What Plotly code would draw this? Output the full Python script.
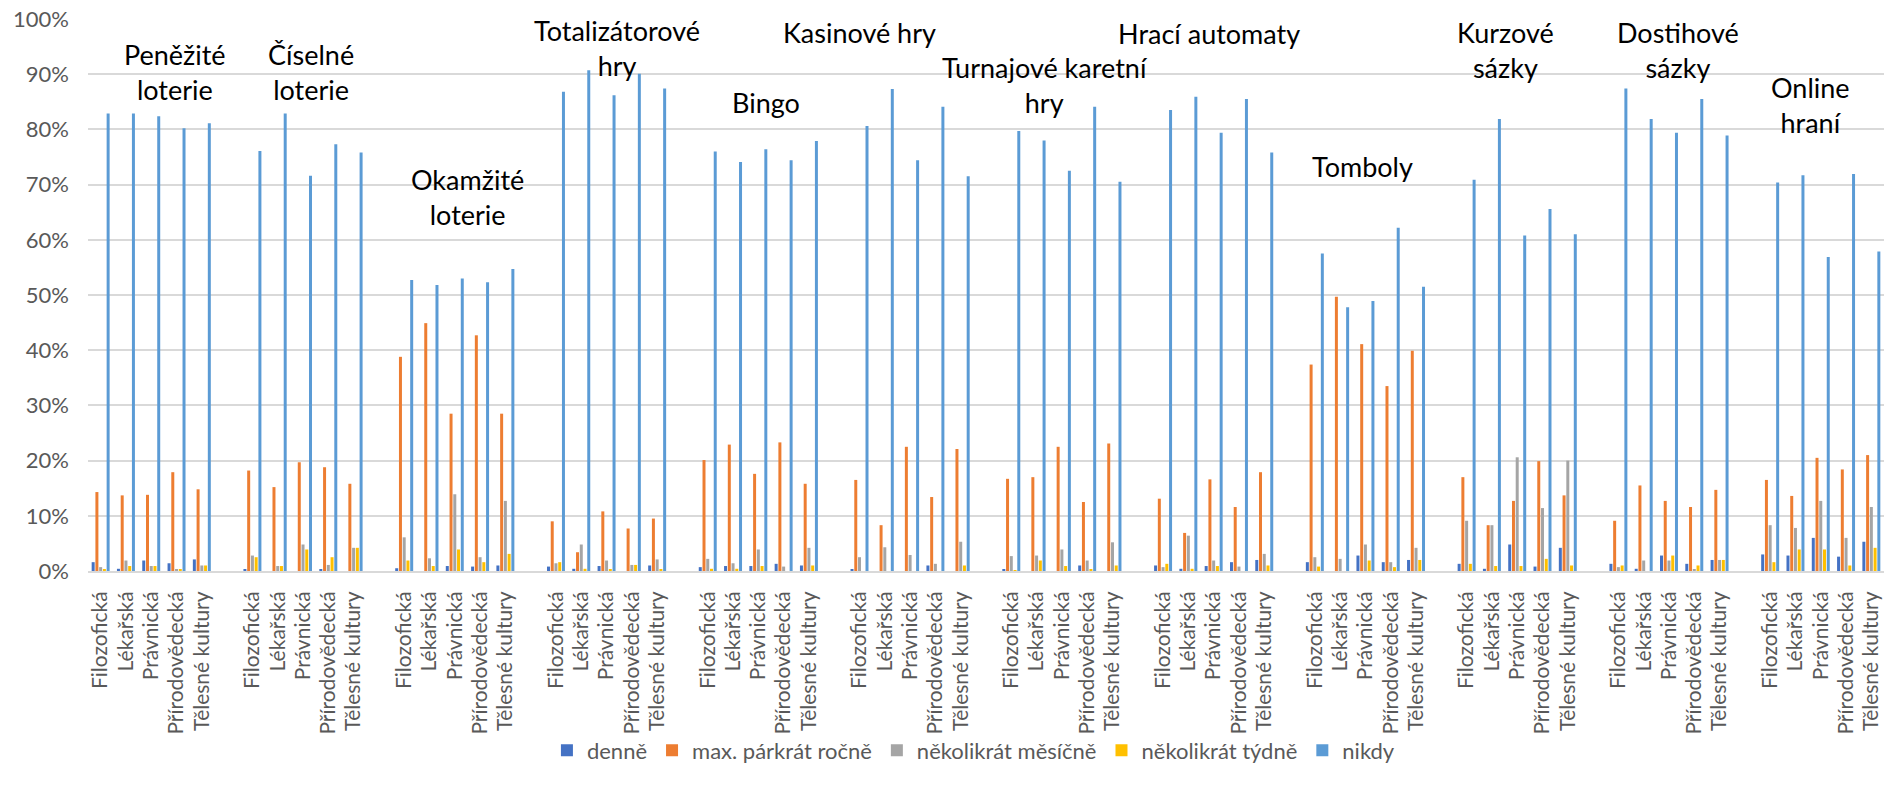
import plotly.graph_objects as go

games = ["Peněžité<br>loterie", "Číselné<br>loterie", "Okamžité<br>loterie", "Totalizátorové<br>hry",
         "Bingo", "Kasinové hry", "Turnajové karetní<br>hry", "Hrací automaty", "Tomboly",
         "Kurzové<br>sázky", "Dostihové<br>sázky", "Online<br>hraní"]
faculties = ["Filozofická", "Lékařská", "Právnická", "Přírodovědecká", "Tělesné kultury"]

# one row per game type, 5 faculties each (shares in %)
denne = [
    1.6, 0.4, 1.9, 1.4, 2.1,
    0.3, 0.0, 0.0, 0.2, 0.0,
    0.5, 0.0, 0.9, 0.8, 1.0,
    0.8, 0.4, 0.9, 0.0, 1.0,
    0.7, 0.9, 0.9, 1.3, 1.0,
    0.2, 0.0, 0.0, 1.0, 0.0,
    0.2, 0.0, 0.0, 1.0, 0.0,
    1.0, 0.4, 0.9, 1.6, 2.0,
    1.6, 0.0, 2.8, 1.6, 2.0,
    1.3, 0.4, 4.8, 0.8, 4.2,
    1.3, 0.4, 2.8, 1.3, 2.0,
    3.0, 2.8, 6.0, 2.6, 5.3,
]
rocne = [
    14.3, 13.7, 13.8, 17.9, 14.8,
    18.2, 15.2, 19.7, 18.8, 15.8,
    38.8, 44.9, 28.5, 42.7, 28.5,
    9.0, 3.4, 10.8, 7.7, 9.5,
    20.1, 22.9, 17.6, 23.3, 15.8,
    16.5, 8.3, 22.5, 13.4, 22.1,
    16.7, 17.0, 22.5, 12.5, 23.1,
    13.1, 6.9, 16.6, 11.6, 17.9,
    37.4, 49.7, 41.1, 33.5, 39.9,
    17.0, 8.3, 12.7, 19.9, 13.7,
    9.1, 15.5, 12.7, 11.6, 14.7,
    16.5, 13.6, 20.5, 18.4, 21.0,
]
mesicne = [
    0.7, 1.9, 0.9, 0.2, 1.0,
    2.8, 0.9, 4.8, 1.1, 4.2,
    6.1, 2.3, 13.9, 2.5, 12.7,
    1.4, 4.8, 1.9, 1.1, 2.1,
    2.2, 1.4, 3.9, 0.8, 4.2,
    2.5, 4.3, 2.9, 1.3, 5.3,
    2.7, 2.8, 3.9, 1.9, 5.2,
    0.7, 6.4, 1.9, 0.8, 3.1,
    2.5, 2.2, 4.8, 1.6, 4.2,
    9.1, 8.3, 20.6, 11.4, 20.0,
    0.7, 1.9, 1.9, 0.2, 2.0,
    8.3, 7.8, 12.7, 6.0, 11.6,
]
tydne = [
    0.2, 0.9, 0.9, 0.2, 1.0,
    2.5, 0.9, 3.9, 2.5, 4.2,
    1.9, 0.9, 3.9, 1.6, 3.1,
    1.6, 0.4, 0.2, 1.1, 0.2,
    0.4, 0.4, 0.9, 0.0, 1.0,
    0.0, 0.0, 0.0, 0.0, 1.0,
    0.1, 1.9, 0.9, 0.2, 1.0,
    1.3, 0.4, 0.9, 0.0, 1.0,
    0.8, 0.0, 1.9, 0.7, 2.0,
    1.3, 0.9, 0.9, 2.2, 1.0,
    1.0, 0.0, 2.8, 1.0, 2.0,
    1.6, 3.9, 3.9, 1.0, 4.2,
]
nikdy = [
    82.9, 82.9, 82.4, 80.2, 81.1,
    76.1, 82.9, 71.6, 77.3, 75.8,
    52.7, 51.8, 53.0, 52.3, 54.7,
    86.8, 90.7, 86.2, 90.1, 87.4,
    76.0, 74.1, 76.4, 74.4, 77.9,
    80.6, 87.3, 74.4, 84.1, 71.5,
    79.7, 78.0, 72.5, 84.1, 70.5,
    83.5, 85.9, 79.4, 85.5, 75.8,
    57.5, 47.8, 48.9, 62.2, 51.5,
    70.9, 81.9, 60.8, 65.6, 61.0,
    87.4, 81.9, 79.4, 85.5, 78.9,
    70.4, 71.7, 56.9, 71.9, 57.9,
]

# where the game titles sit (category position, share)
title_x = [2.95, 8.3, 14.5, 20.4, 26.3, 30.0, 37.35, 43.8, 49.9, 55.55, 62.35, 67.6]
title_y = [0.904, 0.904, 0.677, 0.947, 0.848, 0.975, 0.881, 0.974, 0.732, 0.943, 0.943, 0.844]

series = [
    ("denně", denne, "#4472C4"),
    ("max. párkrát ročně", rocne, "#ED7D31"),
    ("několikrát měsíčně", mesicne, "#A5A5A5"),
    ("několikrát týdně", tydne, "#FFC000"),
    ("nikdy", nikdy, "#5B9BD5"),
]

# one empty category between game types
xpos = [g * 6 + f for g in range(len(games)) for f in range(len(faculties))]
ticktext = faculties * len(games)

fig = go.Figure()
for name, vals, color in series:
    fig.add_trace(go.Bar(x=xpos, y=[v / 100 for v in vals], name=name,
                         marker=dict(color=color, line=dict(width=0))))

for t, tx, ty in zip(games, title_x, title_y):
    fig.add_annotation(x=tx, y=ty, text=t, showarrow=False, xref="x", yref="y",
                       font=dict(family="Lato", size=27, color="black"), align="center")

fig.update_layout(
    width=1884, height=791,
    margin=dict(l=88, r=0, t=19, b=220),
    barmode="group", bargap=0.26, bargroupgap=0.2,
    plot_bgcolor="white", paper_bgcolor="white",
    font=dict(family="Lato", size=22, color="#595959"),
    xaxis=dict(range=[-0.5, 70.5], tickvals=xpos, ticktext=ticktext, tickangle=-90,
               tickfont=dict(size=21),
               showgrid=False, showline=True, linecolor="#D9D9D9", linewidth=2,
               ticks="", ticklabelstandoff=10, fixedrange=True),
    yaxis=dict(range=[0, 1], tickformat=".0%", dtick=0.1, showgrid=True,
               gridcolor="#D9D9D9", gridwidth=1.5, zeroline=False,
               ticklabelstandoff=18, fixedrange=True),
    legend=dict(orientation="h", x=0.493, xanchor="center", y=-0.325, yanchor="middle",
                font=dict(size=22, color="#595959"), itemwidth=30,
                bgcolor="rgba(0,0,0,0)"),
    showlegend=True,
)

fig.write_html("out.html", post_script="document.body.style.margin='0';",
               config={"displayModeBar": False})
